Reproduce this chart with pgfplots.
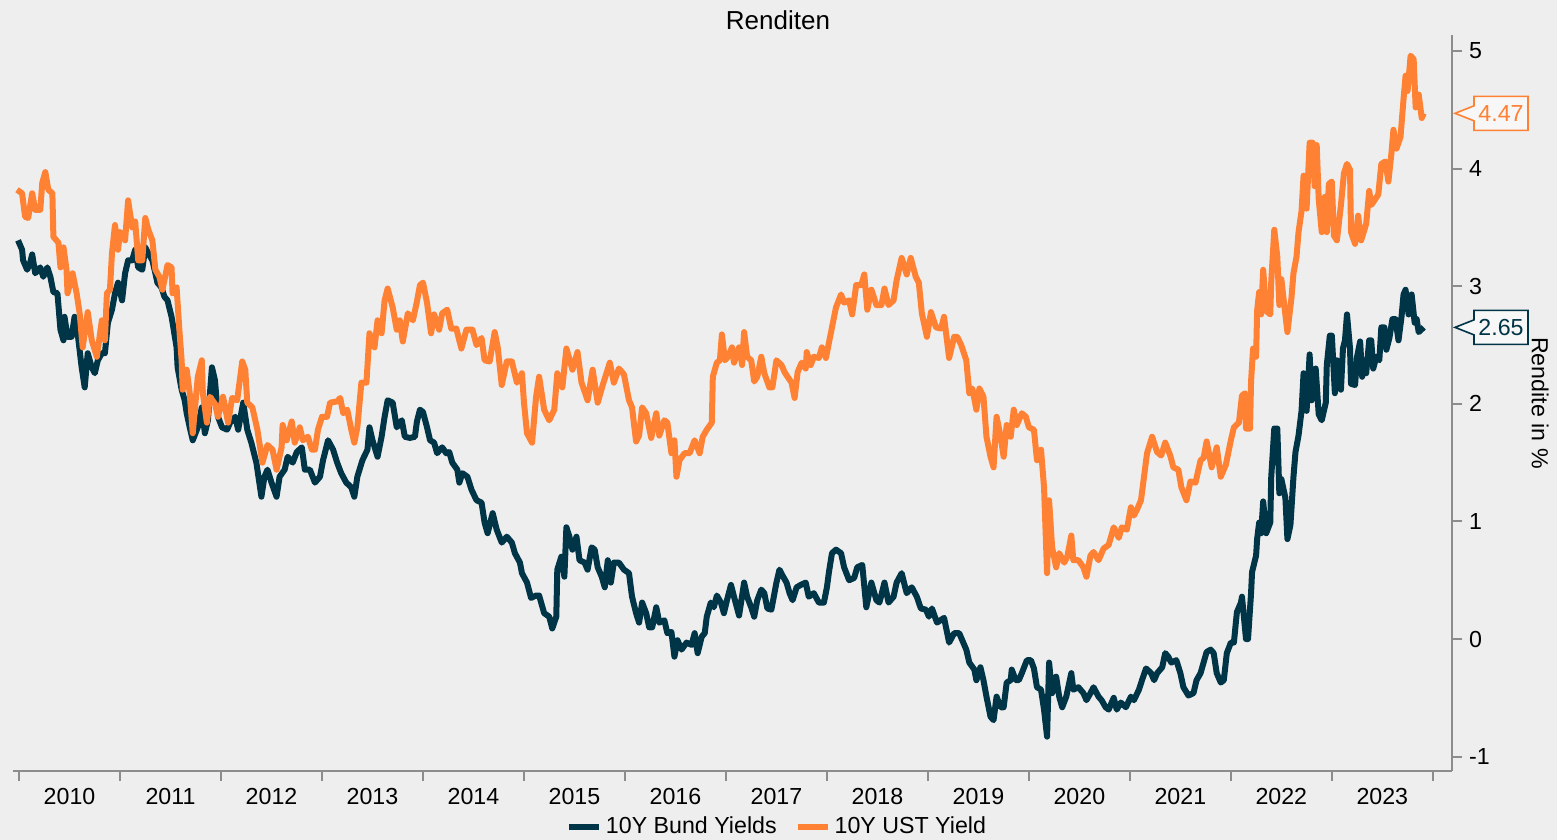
\documentclass[border=0pt]{standalone}
\usepackage{fontspec}
\setmainfont{Liberation Sans}
\usepackage{pgfplots}
\pgfplotsset{compat=1.18}
\definecolor{bg}{HTML}{EEEEEE}
\definecolor{bund}{HTML}{003447}
\definecolor{ust}{HTML}{FF8133}
\definecolor{axgray}{HTML}{8C8C8C}
\definecolor{boxfill}{HTML}{F7F7F7}
\begin{document}
\begin{tikzpicture}
\fill[bg] (0pt,0pt) rectangle (778.5pt,420pt);
\useasboundingbox (0pt,0pt) rectangle (778.5pt,420pt);
\begin{axis}[
  at={(6.5pt,34.5pt)}, anchor=south west,
  scale only axis, width=719.5pt, height=368pt,
  xmin=2009.94, xmax=2024.19, ymin=-1.122, ymax=5.136,
  axis x line*=bottom, axis y line*=right,
  axis line style={axgray, line width=1pt},
  tick align=outside, major tick length=5pt,
  tick style={axgray, line width=1pt},
  xtick={2010,2011,2012,2013,2014,2015,2016,2017,2018,2019,2020,2021,2022,2023,2024},
  x tick label as interval,
  xticklabels={2010,2011,2012,2013,2014,2015,2016,2017,2018,2019,2020,2021,2022,2023},
  ytick={-1,0,1,2,3,4,5},
  /pgf/number format/assume math mode=true,
  tick label style={font=\fontsize{11.6}{14}\selectfont, black},
  title={Renditen},
  title style={font=\fontsize{13}{15}\selectfont, at={(axis description cs:0.5316,1)}, anchor=center, yshift=1.5pt},
  ylabel={Rendite in \%},
  every axis y label/.style={at={(axis description cs:1.0612,0.5)}, rotate=-90, anchor=center, font=\fontsize{11.6}{14}\selectfont},
  legend columns=2,
  legend style={at={(axis description cs:0.5316,-0.0761)}, anchor=center, draw=none, fill=none, font=\fontsize{11.6}{14}\selectfont, /tikz/every even column/.append style={column sep=7pt}},
  legend image code/.code={\draw[#1, line width=3pt] (0pt,0pt) -- (15pt,0pt);},
  clip=false,
]
\addplot[bund, line width=3pt, line join=round, no marks] coordinates {
(2009.99,3.39)(2010.03,3.31)(2010.04,3.22)(2010.08,3.14)(2010.11,3.20)(2010.13,3.27)(2010.16,3.11)(2010.21,3.16)(2010.24,3.08)(2010.28,3.16)(2010.31,3.08)(2010.34,2.95)(2010.38,2.94)(2010.41,2.63)(2010.44,2.54)(2010.45,2.74)(2010.48,2.57)(2010.52,2.57)(2010.55,2.74)(2010.58,2.60)(2010.62,2.31)(2010.65,2.14)(2010.68,2.43)(2010.72,2.31)(2010.75,2.26)(2010.78,2.37)(2010.82,2.43)(2010.85,2.43)(2010.88,2.69)(2010.92,2.80)(2010.95,2.94)(2010.98,3.03)
(2011.02,2.88)(2011.05,3.11)(2011.08,3.22)(2011.12,3.22)(2011.15,3.31)(2011.18,3.16)(2011.22,3.14)(2011.25,3.33)(2011.28,3.28)(2011.32,3.22)(2011.35,3.11)(2011.37,3.03)(2011.41,2.99)(2011.44,2.91)(2011.47,2.88)(2011.51,2.74)(2011.52,2.69)(2011.56,2.48)(2011.57,2.31)(2011.61,2.12)(2011.64,2.03)(2011.66,1.92)(2011.69,1.80)(2011.72,1.69)(2011.77,1.80)(2011.81,1.97)(2011.84,1.75)(2011.87,1.86)(2011.91,2.31)(2011.94,2.20)(2011.97,1.89)
(2012.01,1.80)(2012.06,1.78)(2012.09,1.84)(2012.14,1.89)(2012.17,1.78)(2012.22,2.01)(2012.26,1.78)(2012.30,1.67)(2012.35,1.50)(2012.40,1.21)(2012.43,1.38)(2012.46,1.44)(2012.50,1.33)(2012.55,1.21)(2012.58,1.38)(2012.63,1.44)(2012.66,1.55)(2012.71,1.50)(2012.75,1.59)(2012.80,1.63)(2012.83,1.44)(2012.88,1.44)(2012.93,1.33)(2012.98,1.38)
(2013.01,1.52)(2013.06,1.69)(2013.11,1.61)(2013.15,1.50)(2013.19,1.41)(2013.24,1.33)(2013.29,1.29)(2013.32,1.21)(2013.35,1.38)(2013.40,1.52)(2013.45,1.61)(2013.47,1.80)(2013.50,1.69)(2013.55,1.55)(2013.59,1.72)(2013.62,1.89)(2013.65,2.03)(2013.70,2.01)(2013.74,1.80)(2013.79,1.86)(2013.82,1.72)(2013.87,1.71)(2013.92,1.72)(2013.94,1.85)(2013.97,1.95)
(2014.00,1.93)(2014.04,1.80)(2014.07,1.69)(2014.11,1.67)(2014.14,1.58)(2014.19,1.63)(2014.23,1.58)(2014.26,1.59)(2014.29,1.50)(2014.34,1.44)(2014.36,1.33)(2014.39,1.41)(2014.44,1.38)(2014.48,1.27)(2014.53,1.18)(2014.58,1.16)(2014.61,0.99)(2014.64,0.90)(2014.69,1.07)(2014.73,0.93)(2014.78,0.82)(2014.83,0.87)(2014.88,0.82)(2014.91,0.73)(2014.96,0.65)(2014.98,0.56)
(2015.03,0.48)(2015.07,0.35)(2015.12,0.37)(2015.15,0.37)(2015.17,0.31)(2015.20,0.22)(2015.25,0.19)(2015.28,0.09)(2015.32,0.19)(2015.33,0.59)(2015.37,0.70)(2015.40,0.53)(2015.42,0.95)(2015.45,0.87)(2015.48,0.76)(2015.52,0.87)(2015.55,0.67)(2015.60,0.65)(2015.63,0.59)(2015.67,0.78)(2015.70,0.76)(2015.73,0.61)(2015.77,0.53)(2015.80,0.44)(2015.83,0.67)(2015.86,0.48)(2015.89,0.65)(2015.94,0.65)(2015.99,0.59)
(2016.04,0.56)(2016.07,0.36)(2016.11,0.22)(2016.14,0.14)(2016.17,0.31)(2016.21,0.22)(2016.24,0.10)(2016.27,0.10)(2016.31,0.27)(2016.34,0.14)(2016.39,0.16)(2016.42,0.05)(2016.46,0.06)(2016.49,-0.15)(2016.52,-0.01)(2016.56,-0.09)(2016.61,-0.03)(2016.66,-0.05)(2016.69,0.05)(2016.72,-0.12)(2016.76,0.02)(2016.79,0.05)(2016.81,0.19)(2016.85,0.31)(2016.88,0.27)(2016.91,0.37)(2016.95,0.31)(2016.98,0.22)
(2017.01,0.33)(2017.05,0.46)(2017.08,0.36)(2017.13,0.20)(2017.18,0.48)(2017.21,0.36)(2017.25,0.27)(2017.28,0.19)(2017.31,0.33)(2017.35,0.42)(2017.38,0.39)(2017.41,0.26)(2017.45,0.25)(2017.50,0.48)(2017.53,0.59)(2017.56,0.54)(2017.60,0.48)(2017.63,0.39)(2017.66,0.33)(2017.70,0.44)(2017.74,0.46)(2017.79,0.48)(2017.82,0.36)(2017.87,0.39)(2017.92,0.31)(2017.97,0.31)
(2018.00,0.44)(2018.02,0.57)(2018.05,0.73)(2018.09,0.76)(2018.14,0.73)(2018.17,0.61)(2018.22,0.50)(2018.27,0.52)(2018.30,0.61)(2018.35,0.63)(2018.39,0.27)(2018.44,0.48)(2018.49,0.33)(2018.52,0.31)(2018.57,0.48)(2018.61,0.31)(2018.66,0.36)(2018.69,0.48)(2018.74,0.56)(2018.79,0.39)(2018.84,0.44)(2018.89,0.36)(2018.93,0.26)(2018.98,0.25)
(2019.01,0.19)(2019.04,0.26)(2019.09,0.14)(2019.16,0.18)(2019.21,-0.03)(2019.26,0.05)(2019.31,0.05)(2019.34,-0.01)(2019.38,-0.09)(2019.41,-0.20)(2019.46,-0.26)(2019.48,-0.35)(2019.52,-0.24)(2019.55,-0.35)(2019.58,-0.49)(2019.62,-0.66)(2019.65,-0.69)(2019.68,-0.49)(2019.72,-0.58)(2019.75,-0.58)(2019.78,-0.37)(2019.82,-0.35)(2019.83,-0.26)(2019.87,-0.35)(2019.90,-0.35)(2019.93,-0.29)(2019.98,-0.18)
(2020.02,-0.18)(2020.05,-0.25)(2020.08,-0.41)(2020.12,-0.43)(2020.15,-0.60)(2020.18,-0.83)(2020.20,-0.20)(2020.23,-0.46)(2020.27,-0.32)(2020.30,-0.49)(2020.33,-0.58)(2020.37,-0.49)(2020.42,-0.29)(2020.44,-0.43)(2020.49,-0.41)(2020.54,-0.46)(2020.57,-0.52)(2020.61,-0.46)(2020.64,-0.41)(2020.69,-0.49)(2020.72,-0.52)(2020.76,-0.58)(2020.79,-0.60)(2020.84,-0.50)(2020.87,-0.60)(2020.91,-0.54)(2020.96,-0.58)
(2021.01,-0.49)(2021.04,-0.52)(2021.09,-0.43)(2021.12,-0.35)(2021.16,-0.25)(2021.21,-0.29)(2021.24,-0.35)(2021.27,-0.29)(2021.32,-0.24)(2021.35,-0.12)(2021.38,-0.15)(2021.41,-0.20)(2021.46,-0.18)(2021.50,-0.29)(2021.53,-0.41)(2021.58,-0.48)(2021.63,-0.46)(2021.66,-0.35)(2021.70,-0.29)(2021.73,-0.20)(2021.76,-0.11)(2021.80,-0.09)(2021.83,-0.12)(2021.86,-0.29)(2021.90,-0.37)(2021.93,-0.35)(2021.96,-0.12)
(2022.00,-0.03)(2022.03,-0.03)(2022.06,0.23)(2022.10,0.31)(2022.11,0.36)(2022.15,0.00)(2022.17,0.00)(2022.20,0.39)(2022.21,0.57)(2022.25,0.71)(2022.26,0.85)(2022.28,0.99)(2022.30,0.90)(2022.32,1.17)(2022.35,0.90)(2022.39,0.99)(2022.40,1.38)(2022.43,1.79)(2022.46,1.79)(2022.48,1.24)(2022.50,1.36)(2022.54,1.20)(2022.56,0.85)(2022.59,0.97)(2022.62,1.38)(2022.64,1.59)(2022.67,1.73)(2022.70,1.94)(2022.72,2.26)(2022.75,1.94)(2022.78,2.42)(2022.80,2.03)(2022.84,2.30)(2022.87,1.91)(2022.90,1.86)(2022.94,2.01)(2022.95,2.33)(2022.98,2.58)
(2023.00,2.58)(2023.03,2.09)(2023.05,2.37)(2023.09,2.12)(2023.11,2.47)(2023.13,2.54)(2023.15,2.76)(2023.18,2.47)(2023.19,2.17)(2023.23,2.16)(2023.25,2.40)(2023.28,2.53)(2023.30,2.23)(2023.33,2.37)(2023.34,2.26)(2023.37,2.54)(2023.39,2.54)(2023.41,2.30)(2023.44,2.40)(2023.47,2.37)(2023.49,2.65)(2023.52,2.65)(2023.54,2.46)(2023.57,2.56)(2023.60,2.72)(2023.63,2.72)(2023.66,2.54)(2023.69,2.74)(2023.71,2.93)(2023.73,2.97)(2023.76,2.76)(2023.79,2.93)(2023.82,2.69)(2023.84,2.72)(2023.86,2.61)(2023.91,2.65)
};
\addlegendentry{10Y Bund Yields}
\addplot[ust, line width=3pt, line join=round, no marks] coordinates {
(2009.98,3.82)(2010.03,3.79)(2010.06,3.59)(2010.09,3.58)(2010.13,3.79)(2010.16,3.65)(2010.21,3.65)(2010.23,3.88)(2010.26,3.97)(2010.29,3.82)(2010.33,3.79)(2010.34,3.42)(2010.39,3.37)(2010.41,3.16)(2010.44,3.33)(2010.47,3.14)(2010.48,2.94)(2010.53,3.11)(2010.57,2.94)(2010.60,2.77)(2010.63,2.48)(2010.68,2.78)(2010.72,2.54)(2010.77,2.40)(2010.82,2.71)(2010.85,2.54)(2010.87,2.94)(2010.90,2.97)(2010.92,3.28)(2010.95,3.52)(2010.98,3.31)
(2011.00,3.46)(2011.05,3.39)(2011.08,3.73)(2011.12,3.50)(2011.15,3.55)(2011.18,3.22)(2011.22,3.22)(2011.25,3.58)(2011.28,3.48)(2011.32,3.39)(2011.35,3.14)(2011.39,3.08)(2011.42,2.97)(2011.47,3.18)(2011.51,3.16)(2011.52,2.94)(2011.56,2.99)(2011.59,2.60)(2011.61,2.37)(2011.62,2.12)(2011.66,2.29)(2011.69,2.09)(2011.72,1.75)(2011.77,2.23)(2011.81,2.37)(2011.82,2.09)(2011.86,1.84)(2011.89,2.06)(2011.94,2.00)(2011.97,1.89)
(2012.02,2.06)(2012.07,1.84)(2012.11,2.05)(2012.16,2.03)(2012.21,2.36)(2012.24,2.29)(2012.26,2.01)(2012.31,1.97)(2012.36,1.78)(2012.41,1.50)(2012.46,1.65)(2012.51,1.61)(2012.55,1.44)(2012.60,1.63)(2012.61,1.82)(2012.65,1.69)(2012.70,1.85)(2012.73,1.67)(2012.78,1.80)(2012.81,1.69)(2012.86,1.72)(2012.90,1.61)(2012.93,1.61)(2012.96,1.78)
(2013.00,1.89)(2013.05,1.89)(2013.08,2.01)(2013.15,2.02)(2013.18,2.05)(2013.21,1.92)(2013.25,1.95)(2013.29,1.78)(2013.32,1.67)(2013.35,1.80)(2013.39,2.18)(2013.44,2.18)(2013.47,2.60)(2013.52,2.48)(2013.55,2.71)(2013.59,2.60)(2013.62,2.88)(2013.65,2.98)(2013.70,2.82)(2013.74,2.63)(2013.77,2.71)(2013.80,2.53)(2013.85,2.77)(2013.90,2.71)(2013.94,2.87)(2013.97,3.01)
(2014.00,3.03)(2014.04,2.86)(2014.08,2.60)(2014.11,2.76)(2014.16,2.63)(2014.19,2.77)(2014.24,2.80)(2014.28,2.64)(2014.33,2.64)(2014.38,2.47)(2014.43,2.63)(2014.49,2.63)(2014.53,2.50)(2014.58,2.56)(2014.61,2.37)(2014.66,2.36)(2014.71,2.61)(2014.74,2.48)(2014.78,2.16)(2014.83,2.36)(2014.88,2.36)(2014.93,2.18)(2014.98,2.26)
(2015.00,2.01)(2015.03,1.75)(2015.08,1.67)(2015.12,2.06)(2015.15,2.23)(2015.20,1.95)(2015.25,1.86)(2015.30,1.95)(2015.33,2.26)(2015.38,2.14)(2015.42,2.47)(2015.48,2.29)(2015.53,2.44)(2015.57,2.18)(2015.63,2.03)(2015.68,2.29)(2015.73,2.01)(2015.78,2.16)(2015.85,2.35)(2015.89,2.18)(2015.94,2.30)(2015.99,2.25)
(2016.04,2.03)(2016.07,1.97)(2016.11,1.68)(2016.14,1.73)(2016.17,1.97)(2016.21,1.92)(2016.26,1.71)(2016.31,1.92)(2016.34,1.73)(2016.39,1.86)(2016.42,1.84)(2016.46,1.58)(2016.49,1.69)(2016.51,1.38)(2016.54,1.52)(2016.59,1.58)(2016.64,1.58)(2016.69,1.69)(2016.74,1.58)(2016.77,1.72)(2016.81,1.78)(2016.86,1.84)(2016.87,2.23)(2016.91,2.35)(2016.94,2.37)(2016.96,2.59)(2016.99,2.37)
(2017.02,2.40)(2017.06,2.48)(2017.08,2.35)(2017.13,2.48)(2017.16,2.33)(2017.18,2.61)(2017.21,2.40)(2017.25,2.37)(2017.28,2.19)(2017.31,2.23)(2017.35,2.40)(2017.38,2.26)(2017.43,2.14)(2017.46,2.14)(2017.50,2.37)(2017.55,2.33)(2017.58,2.27)(2017.61,2.23)(2017.65,2.18)(2017.68,2.05)(2017.71,2.27)(2017.75,2.35)(2017.79,2.30)(2017.80,2.44)(2017.84,2.33)(2017.87,2.40)(2017.92,2.39)(2017.95,2.48)(2017.99,2.39)
(2018.02,2.52)(2018.05,2.65)(2018.09,2.82)(2018.14,2.93)(2018.17,2.86)(2018.22,2.88)(2018.25,2.76)(2018.29,3.01)(2018.34,3.01)(2018.37,3.10)(2018.40,2.80)(2018.44,2.97)(2018.49,2.84)(2018.54,2.84)(2018.57,2.98)(2018.61,2.84)(2018.66,2.88)(2018.69,3.05)(2018.74,3.24)(2018.79,3.10)(2018.83,3.24)(2018.88,3.08)(2018.91,3.03)(2018.94,2.77)(2018.99,2.57)
(2019.03,2.78)(2019.08,2.65)(2019.13,2.64)(2019.16,2.74)(2019.21,2.39)(2019.26,2.57)(2019.29,2.57)(2019.33,2.50)(2019.38,2.37)(2019.41,2.09)(2019.44,2.13)(2019.48,1.95)(2019.51,2.13)(2019.55,2.06)(2019.58,1.72)(2019.62,1.55)(2019.65,1.46)(2019.68,1.89)(2019.72,1.72)(2019.75,1.55)(2019.78,1.82)(2019.82,1.72)(2019.85,1.95)(2019.88,1.82)(2019.93,1.92)(2019.97,1.89)
(2020.00,1.80)(2020.05,1.78)(2020.08,1.52)(2020.12,1.61)(2020.15,1.29)(2020.18,0.56)(2020.20,1.18)(2020.23,0.78)(2020.27,0.61)(2020.30,0.73)(2020.35,0.65)(2020.38,0.70)(2020.42,0.88)(2020.44,0.67)(2020.49,0.67)(2020.54,0.61)(2020.57,0.53)(2020.61,0.71)(2020.64,0.74)(2020.69,0.67)(2020.74,0.77)(2020.79,0.80)(2020.84,0.95)(2020.89,0.86)(2020.92,0.95)(2020.97,0.93)
(2021.01,1.12)(2021.04,1.05)(2021.07,1.10)(2021.11,1.18)(2021.14,1.38)(2021.17,1.58)(2021.22,1.72)(2021.27,1.59)(2021.31,1.56)(2021.35,1.67)(2021.40,1.56)(2021.43,1.46)(2021.48,1.44)(2021.51,1.29)(2021.56,1.18)(2021.60,1.34)(2021.65,1.33)(2021.70,1.52)(2021.73,1.54)(2021.76,1.68)(2021.81,1.46)(2021.86,1.63)(2021.90,1.38)(2021.95,1.48)
(2022.00,1.69)(2022.03,1.80)(2022.08,1.84)(2022.11,2.07)(2022.14,2.09)(2022.15,1.79)(2022.19,1.79)(2022.20,2.19)(2022.22,2.47)(2022.25,2.40)(2022.26,2.79)(2022.28,2.95)(2022.30,2.76)(2022.32,3.14)(2022.35,2.79)(2022.39,2.76)(2022.40,3.04)(2022.43,3.48)(2022.46,3.25)(2022.48,2.84)(2022.50,3.06)(2022.53,2.83)(2022.56,2.61)(2022.60,2.90)(2022.62,3.11)(2022.65,3.25)(2022.67,3.46)(2022.70,3.64)(2022.72,3.94)(2022.75,3.66)(2022.78,4.22)(2022.81,4.22)(2022.83,3.85)(2022.85,4.20)(2022.87,3.74)(2022.90,3.46)(2022.93,3.76)(2022.95,3.46)(2022.97,3.87)
(2023.00,3.89)(2023.02,3.43)(2023.05,3.39)(2023.09,3.69)(2023.12,3.96)(2023.15,4.04)(2023.18,3.99)(2023.19,3.46)(2023.23,3.36)(2023.26,3.60)(2023.29,3.39)(2023.34,3.53)(2023.37,3.81)(2023.39,3.69)(2023.43,3.74)(2023.46,3.78)(2023.49,4.04)(2023.53,4.06)(2023.56,3.89)(2023.59,4.13)(2023.61,4.33)(2023.64,4.17)(2023.68,4.27)(2023.71,4.59)(2023.73,4.79)(2023.75,4.66)(2023.78,4.96)(2023.81,4.93)(2023.83,4.52)(2023.86,4.63)(2023.89,4.43)(2023.91,4.47)
};
\addlegendentry{10Y UST Yield}
\draw[ust, line width=0.8pt, fill=boxfill, line join=miter] (axis cs:2024.19,4.47) ++(1.5pt,0pt) -- ++(9.5pt,3.75pt) -- ++(0pt,4.75pt) -- ++(27pt,0pt) -- ++(0pt,-17pt) -- ++(-27pt,0pt) -- ++(0pt,4.75pt) -- cycle;
\node[ust, font=\fontsize{11.6}{14}\selectfont, anchor=center] at ([xshift=24.5pt]axis cs:2024.19,4.47) {4.47};
\draw[bund, line width=0.8pt, fill=boxfill, line join=miter] (axis cs:2024.19,2.65) ++(1.5pt,0pt) -- ++(9.5pt,3.75pt) -- ++(0pt,4.75pt) -- ++(27pt,0pt) -- ++(0pt,-17pt) -- ++(-27pt,0pt) -- ++(0pt,4.75pt) -- cycle;
\node[bund, font=\fontsize{11.6}{14}\selectfont, anchor=center] at ([xshift=24.5pt]axis cs:2024.19,2.65) {2.65};
\end{axis}
\end{tikzpicture}
\end{document}
